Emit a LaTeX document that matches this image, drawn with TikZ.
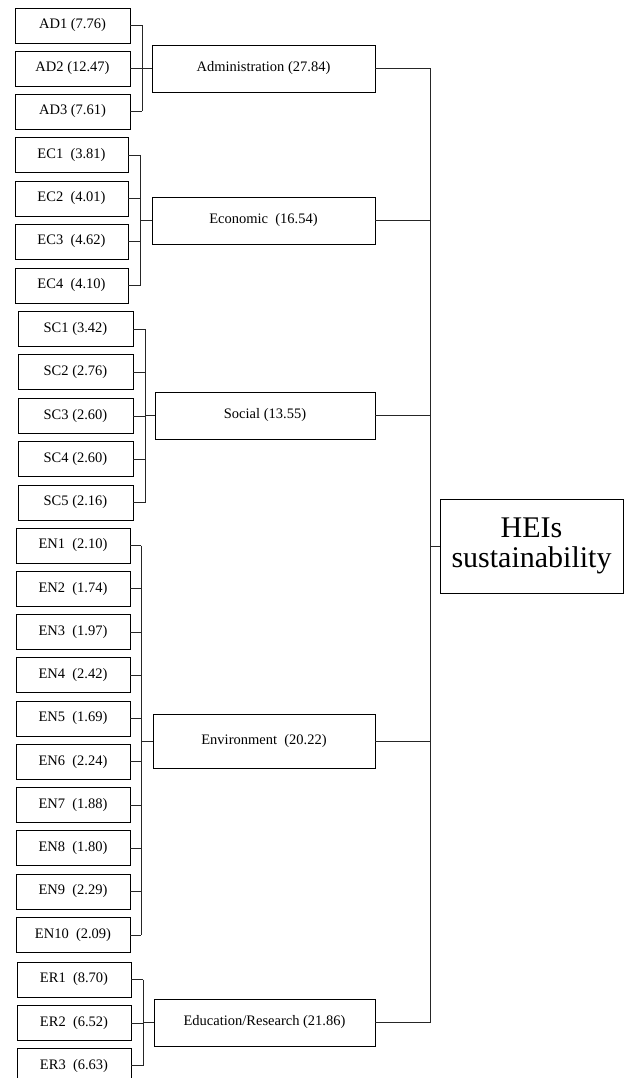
\documentclass[tikz,border=0pt]{standalone}
\usepackage{fontspec}
\setmainfont{Liberation Serif}
\begin{document}
\begin{tikzpicture}[x=1pt,y=-1pt,
  line width=0.8pt,
  every node/.style={inner sep=0pt,outer sep=0pt},
  leaf/.style={draw,minimum height=35pt,font=\fontsize{14.5}{17}\selectfont},
  dim/.style={draw,minimum height=47pt,font=\fontsize{14.5}{17}\selectfont},
  root/.style={draw,minimum width=183pt,minimum height=94pt,align=center,
    font=\fontsize{30}{30}\selectfont},
  link/.style={draw=black!85}]
\useasboundingbox (0,0) rectangle (625,1078);
\clip (0,0) rectangle (625,1078);
\fill[white] (0,0) rectangle (625,1078);

% Administration
\node[leaf,minimum width=115pt] (ad1) at (72.5,25.5) {AD1 (7.76)};
\node[leaf,minimum width=115pt] (ad2) at (72.5,68.5) {AD2 (12.47)};
\node[leaf,minimum width=115pt] (ad3) at (72.5,111.5) {AD3 (7.61)};
\node[dim,minimum width=223pt] (adm) at (263.5,68.5) {Administration (27.84)};
\coordinate (adb) at (142,0);

% Economic
\node[leaf,minimum width=113pt] (ec1) at (71.5,155) {EC1~~(3.81)};
\node[leaf,minimum width=113pt] (ec2) at (71.5,198.5) {EC2~~(4.01)};
\node[leaf,minimum width=113pt] (ec3) at (71.5,241.5) {EC3~~(4.62)};
\node[leaf,minimum width=113pt] (ec4) at (71.5,285.5) {EC4~~(4.10)};
\node[dim,minimum width=223pt] (eco) at (263.5,220.5) {Economic~~(16.54)};
\coordinate (ecb) at (140,0);

% Social
\node[leaf,minimum width=115pt] (sc1) at (75.5,329) {SC1 (3.42)};
\node[leaf,minimum width=115pt] (sc2) at (75.5,372) {SC2 (2.76)};
\node[leaf,minimum width=115pt] (sc3) at (75.5,416) {SC3 (2.60)};
\node[leaf,minimum width=115pt] (sc4) at (75.5,459) {SC4 (2.60)};
\node[leaf,minimum width=115pt] (sc5) at (75.5,502.5) {SC5 (2.16)};
\node[dim,minimum width=220pt] (soc) at (265,415.5) {Social (13.55)};
\coordinate (scb) at (145,0);

% Environment
\node[leaf,minimum width=114pt] (en1) at (73,545.5) {EN1~~(2.10)};
\node[leaf,minimum width=114pt] (en2) at (73,588.75) {EN2~~(1.74)};
\node[leaf,minimum width=114pt] (en3) at (73,632) {EN3~~(1.97)};
\node[leaf,minimum width=114pt] (en4) at (73,675.25) {EN4~~(2.42)};
\node[leaf,minimum width=114pt] (en5) at (73,718.5) {EN5~~(1.69)};
\node[leaf,minimum width=114pt] (en6) at (73,761.75) {EN6~~(2.24)};
\node[leaf,minimum width=114pt] (en7) at (73,805) {EN7~~(1.88)};
\node[leaf,minimum width=114pt] (en8) at (73,848.25) {EN8~~(1.80)};
\node[leaf,minimum width=114pt] (en9) at (73,891.5) {EN9~~(2.29)};
\node[leaf,minimum width=114pt] (en10) at (73,935) {EN10~~(2.09)};
\node[dim,minimum width=222pt,minimum height=54pt] (env) at (264,741) {Environment~~(20.22)};
\coordinate (enb) at (141,0);

% Education/Research
\node[leaf,minimum width=114pt] (er1) at (74,979.5) {ER1~~(8.70)};
\node[leaf,minimum width=114pt] (er2) at (74,1023) {ER2~~(6.52)};
\node[leaf,minimum width=114pt] (er3) at (74,1065.5) {ER3~~(6.63)};
\node[dim,minimum width=221pt] (edu) at (264.5,1022.5) {Education/Research (21.86)};
\coordinate (erb) at (143,0);

% Root
\node[root] (hei) at (531.5,546) {HEIs\\sustainability};
\coordinate (bus) at (430,0);

% Brackets: leaves -> dimensions
\foreach \c in {ad1,ad2,ad3} \draw[link] (\c.east) -- (\c.east -| adb);
\draw[link] (ad1.east -| adb) -- (ad3.east -| adb);
\draw[link] (adm.west -| adb) -- (adm.west);

\foreach \c in {ec1,ec2,ec3,ec4} \draw[link] (\c.east) -- (\c.east -| ecb);
\draw[link] (ec1.east -| ecb) -- (ec4.east -| ecb);
\draw[link] (eco.west -| ecb) -- (eco.west);

\foreach \c in {sc1,sc2,sc3,sc4,sc5} \draw[link] (\c.east) -- (\c.east -| scb);
\draw[link] (sc1.east -| scb) -- (sc5.east -| scb);
\draw[link] (soc.west -| scb) -- (soc.west);

\foreach \c in {en1,en2,en3,en4,en5,en6,en7,en8,en9,en10} \draw[link] (\c.east) -- (\c.east -| enb);
\draw[link] (en1.east -| enb) -- (en10.east -| enb);
\draw[link] (env.west -| enb) -- (env.west);

\foreach \c in {er1,er2,er3} \draw[link] (\c.east) -- (\c.east -| erb);
\draw[link] (er1.east -| erb) -- (er3.east -| erb);
\draw[link] (edu.west -| erb) -- (edu.west);

% Dimensions -> root
\foreach \d in {adm,eco,soc,env,edu} \draw[link] (\d.east) -- (\d.east -| bus);
\draw[link] (adm.east -| bus) -- (edu.east -| bus);
\draw[link] (hei.west -| bus) -- (hei.west);
\end{tikzpicture}
\end{document}
